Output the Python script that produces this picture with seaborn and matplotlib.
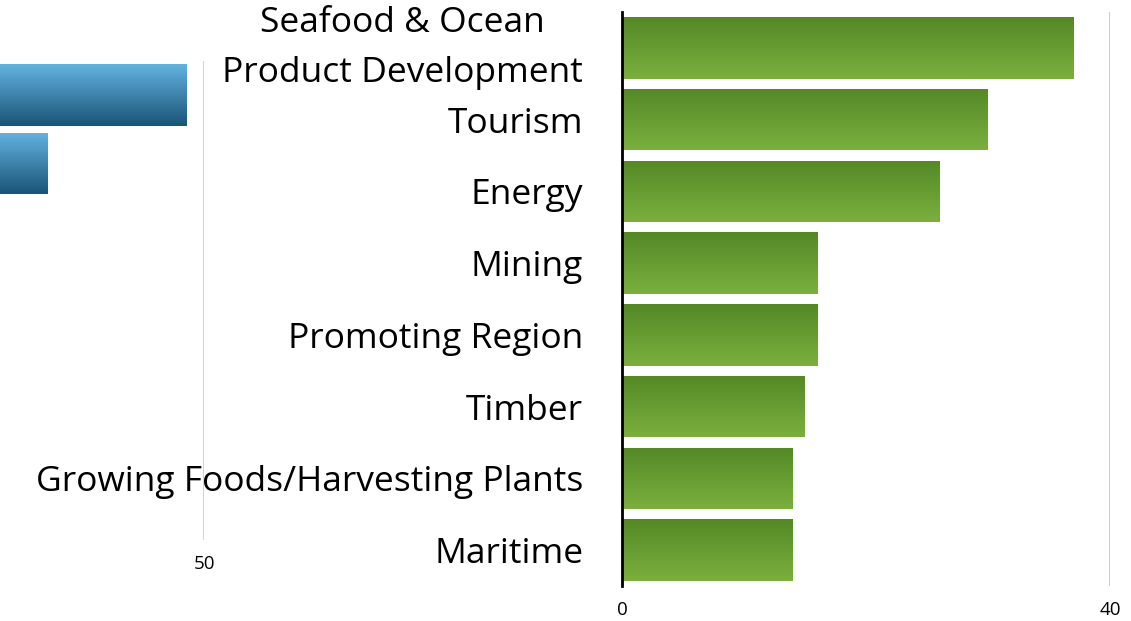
import numpy as np
import pandas as pd
import matplotlib
matplotlib.use("Agg")
import matplotlib.pyplot as plt
from matplotlib.colors import LinearSegmentedColormap
import seaborn as sns

# ---- data ----
categories = ["Seafood & Ocean\nProduct Development", "Tourism", "Energy", "Mining",
              "Promoting Region", "Timber", "Growing Foods/Harvesting Plants", "Maritime"]
values = [37, 30, 26, 16, 16, 15, 14, 14]
green_ticks = [0, 40]

blue_categories = ["Item 1", "Item 2"]
blue_values = [48.6, 37.2]
blue_ticks = [50]

sns.set_theme(style="white")
plt.rcParams['font.family'] = ['Open Sans', 'DejaVu Sans']

fig = plt.figure(figsize=(11.31, 6.21), dpi=100)


def gradient_fill(ax, top, bottom):
    cmap = LinearSegmentedColormap.from_list("grad", [top, bottom])
    grad = np.linspace(0, 1, 256).reshape(-1, 1)
    for p in list(ax.patches):
        x0, y0 = p.get_x(), p.get_y()
        w, h = p.get_width(), p.get_height()
        im = ax.imshow(grad, cmap=cmap, aspect='auto',
                       extent=[x0, x0 + w, y0 + h, y0], origin='upper',
                       zorder=p.get_zorder(), interpolation='bicubic')
        im.set_clip_path(p)
        p.set_facecolor('none')
        p.set_edgecolor('none')


# ---- blue (partially visible) chart, drawn underneath ----
ax2 = fig.add_axes([-0.359, 0.1304, 0.5394, 0.7714])
ax2.patch.set_visible(False)
dfb = pd.DataFrame({"cat": blue_categories, "val": blue_values})
sns.barplot(data=dfb, x="val", y="cat", ax=ax2, orient="h", width=0.9, color="#3a86b3")
gradient_fill(ax2, "#63b3e1", "#1a5476")
ax2.set_xlim(0, 50)
ax2.set_ylim(6.5, -0.5)
ax2.set_xticks(blue_ticks)
ax2.set_xticklabels([str(t) for t in blue_ticks])
ax2.set_yticks([])
ax2.set_xlabel("")
ax2.set_ylabel("")
for s in ax2.spines.values():
    s.set_visible(False)
ax2.xaxis.grid(True, color="#d0d0d0", linewidth=1.3)
ax2.set_axisbelow(True)
ax2.tick_params(axis="x", length=0, pad=11, labelsize=13.5, labelcolor="black")

# ---- green (main) chart ----
ax = fig.add_axes([0.55, 0.0564, 0.4314, 0.9243])
ax.patch.set_visible(False)
df = pd.DataFrame({"cat": categories, "val": values})
sns.barplot(data=df, x="val", y="cat", ax=ax, orient="h", width=0.86, color="#6a9e33")
gradient_fill(ax, "#548826", "#7bb03f")
ax.set_xlim(0, 40)
ax.set_ylim(len(categories) - 0.5, -0.5)
ax.set_xticks(green_ticks)
ax.set_xticklabels([str(t) for t in green_ticks])
ax.set_xlabel("")
ax.set_ylabel("")
for s in ["top", "right", "bottom"]:
    ax.spines[s].set_visible(False)
ax.spines["left"].set_color("black")
ax.spines["left"].set_linewidth(2)
ax.spines["left"].set_zorder(5)
ax.xaxis.grid(True, color="#c8c8c8", linewidth=1.3)
ax.set_axisbelow(True)
ax.tick_params(axis="y", length=0, pad=28, labelsize=25.5, labelcolor="black")
ax.tick_params(axis="x", length=0, pad=11, labelsize=13.5, labelcolor="black")
for t in ax.get_yticklabels():
    t.set_multialignment("center")
    if "\n" in t.get_text():
        t.set_linespacing(1.62)
        t.set_verticalalignment("center")

fig.savefig("out.png", dpi=100, facecolor="white")
